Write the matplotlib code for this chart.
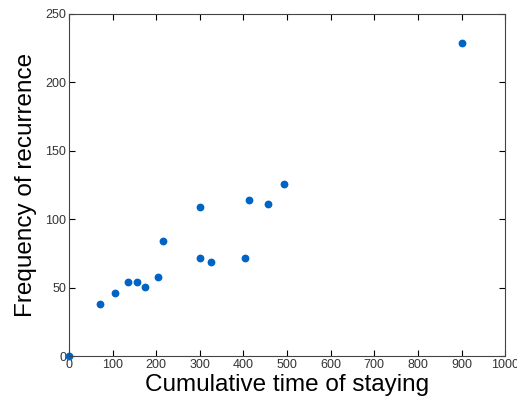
import matplotlib.pyplot as plt

plt.rcParams['font.family'] = ['Liberation Sans', 'DejaVu Sans']

# tiempo acumulado de estancia y frecuencia de recurrencia
tiempo = [0, 71, 106, 135, 156, 175, 205, 216, 300, 301, 326, 403, 412, 456, 493, 901]
frecuencia = [0, 38, 46.5, 54.5, 54.5, 51, 58, 84, 71.5, 109, 69, 72, 114, 111, 126, 229]

fig = plt.figure(figsize=(5.17, 4.05), dpi=100)
ax = fig.add_axes([0.1335, 0.12, 0.8435, 0.8455])

ax.plot(tiempo, frecuencia, 'o', color='#0063C6', markersize=4.6, clip_on=False)

ax.set_xlim(0, 1000)
ax.set_ylim(0, 250)
ax.set_xticks(range(0, 1001, 100))
ax.set_yticks(range(0, 251, 50))
ax.tick_params(direction='in', top=True, right=True, length=4,
               labelsize=9, labelcolor='#333333', pad=2)
for s in ax.spines.values():
    s.set_color('#444444')

ax.set_xlabel('Cumulative time of staying', fontsize=17.5, labelpad=2)
ax.set_ylabel('Frequency of recurrence', fontsize=17.5, labelpad=6)

fig.savefig('out.png', dpi=100)
